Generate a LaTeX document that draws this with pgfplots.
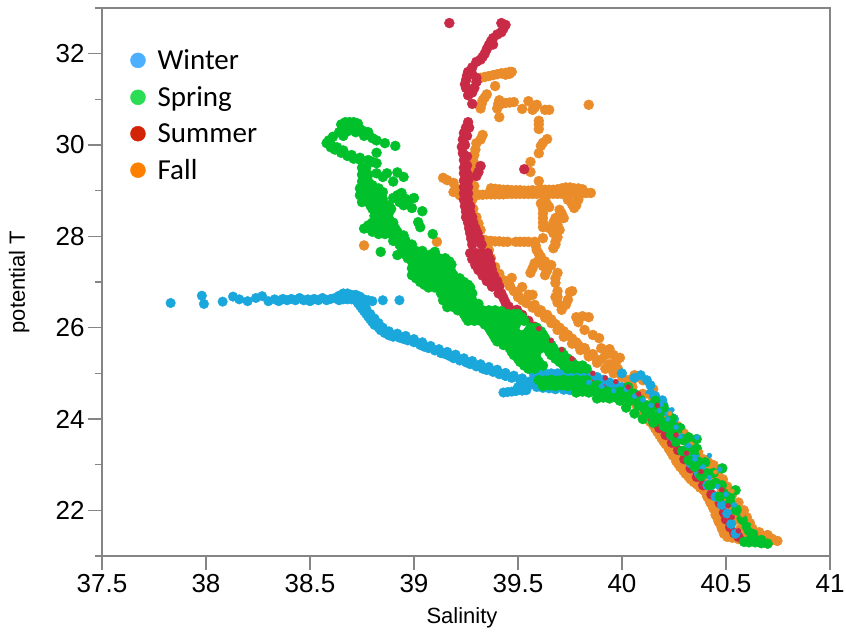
\documentclass[border=0pt]{standalone}
\usepackage{fontspec}
\setmainfont{Liberation Sans}
\newfontfamily\legfont{Carlito}
\usepackage{pgfplots}
\pgfplotsset{compat=1.18}
\definecolor{frame}{HTML}{858585}
\definecolor{cWin}{HTML}{1AA7DC}
\definecolor{cSpr}{HTML}{00C12B}
\definecolor{cSum}{HTML}{C92B46}
\definecolor{cFal}{HTML}{EA8C2A}
\definecolor{lWin}{HTML}{4DAFFF}
\definecolor{lSpr}{HTML}{2BDC55}
\definecolor{lSum}{HTML}{D42408}
\definecolor{lFal}{HTML}{FF7F00}
\begin{document}
\begin{tikzpicture}[x=1pt,y=1pt]
\path[use as bounding box] (0,0) rectangle (846,634);
\begin{axis}[
  at={(102pt,78pt)}, anchor=south west,
  scale only axis, width=728pt, height=548pt,
  xmin=37.5, xmax=41, ymin=21, ymax=33,
  xtick={37.5,38,38.5,39,39.5,40,40.5,41},
  xticklabels={37.5,38,38.5,39,39.5,40,40.5,41},
  ytick={22,24,26,28,30,32},
  minor ytick={21,23,25,27,29,31,33},
  tick pos=left,
  tick align=outside,
  major tick length=14pt, minor tick length=7pt,
  every tick/.style={frame, line width=1.6pt},
  axis line style={frame, line width=2.2pt},
  /pgf/number format/assume math mode=true,
  ticklabel style={font=\fontsize{26}{28}\selectfont},
  xticklabel style={yshift=-1pt},
  xlabel={Salinity}, ylabel={potential T},
  xlabel style={font=\fontsize{22}{24}\selectfont, at={(axis description cs:0.4945,0)}, anchor=north, yshift=-48pt},
  ylabel style={font=\fontsize{22}{24}\selectfont, at={(axis description cs:0,0.5)}, anchor=south, yshift=69pt},
  clip=true,
  legend cell align=left,
  legend style={draw=none, fill=none, at={(axis cs:37.635,30.65)}, anchor=west,
     font=\legfont\fontsize{29}{30}\selectfont, row sep=11.5pt, inner sep=0pt},
  legend image code/.code={\path (0pt,0pt) (25pt,0pt); \draw[#1, mark=*, mark size=7.5pt, only marks] plot coordinates {(7.5pt,0pt)};},
  scatter series/.style={only marks, mark=*, mark size=5pt, forget plot},
]
\addlegendimage{only marks, mark=*, color=lWin}
\addlegendentry{Winter}
\addlegendimage{only marks, mark=*, color=lSpr}
\addlegendentry{Spring}
\addlegendimage{only marks, mark=*, color=lSum}
\addlegendentry{Summer}
\addlegendimage{only marks, mark=*, color=lFal}
\addlegendentry{Fall}

% ---------- Fall
\addplot[scatter series, color=cFal] coordinates {
(39.32,31.47)(39.34,31.49)(39.36,31.51)(39.38,31.53)(39.4,31.55)(39.42,31.57)(39.44,31.58)(39.46,31.6)(39.47,31.6)(39.44,31.54)(39.46,31.56)
(39.39,31.29)(39.35,31.11)(39.33,30.98)(39.32,30.8)(39.325,30.9)(39.34,31.04)
(39.41,30.98)(39.4,30.8)(39.41,30.61)(39.405,30.9)(39.44,30.92)(39.46,30.93)(39.48,30.94)(39.42,30.9)
(39.55,30.96)(39.52,30.79)(39.57,30.77)(39.58,30.82)(39.59,30.88)(39.63,30.77)(39.65,30.77)(39.84,30.88)
(39.6,30.53)(39.6,30.45)(39.6,30.35)(39.64,30.13)(39.61,29.98)(39.62,30.05)(39.6,29.82)(39.56,29.63)(39.56,29.41)(39.6,29.21)
(39.33,30.22)(39.32,30.12)(39.3,30.04)(39.295,29.9)(39.29,29.78)(39.285,29.65)(39.28,29.52)(39.275,29.4)(39.27,29.2)
(39.14,29.28)(39.16,29.23)(39.19,29.17)(39.19,28.97)(39.2,29.05)(39.22,28.9)(39.24,29.05)(39.26,29)(39.29,29.1)
(39.27,28.9)(39.29,28.9)(39.31,28.91)(39.33,28.91)(39.35,28.92)(39.37,28.92)(39.39,28.92)(39.41,28.92)(39.43,28.92)(39.45,28.93)(39.47,28.93)(39.49,28.93)(39.51,28.93)(39.53,28.93)(39.55,28.93)(39.57,28.93)(39.59,28.93)(39.61,28.93)(39.63,28.93)(39.65,28.93)(39.67,28.93)(39.69,28.93)(39.71,28.93)(39.73,28.93)(39.75,28.93)(39.77,28.93)(39.79,28.94)(39.81,28.94)(39.83,28.95)(39.85,28.95)
(39.37,29.05)(39.39,29.04)(39.41,29.03)(39.43,29.02)(39.45,29.02)(39.47,29.01)(39.49,29.01)(39.51,29.01)(39.53,29)(39.55,29)(39.57,29.01)(39.59,29)(39.61,29.03)(39.63,29.02)(39.65,29.02)(39.67,29.02)(39.69,29.03)(39.71,29.05)(39.73,29.07)(39.75,29.07)(39.77,29.05)(39.79,29.05)(39.81,29.03)
(39.77,28.62)(39.79,28.8)(39.74,28.8)(39.76,28.7)(39.78,28.68)
(39.7,28.58)(39.72,28.4)(39.71,28.5)(39.68,28.4)(39.65,28.64)(39.62,28.6)(39.62,28.4)(39.62,28.5)(39.62,28.3)(39.62,28.2)(39.67,28.07)(39.7,28.14)(39.69,28.25)(39.67,27.74)(39.68,27.82)(39.62,27.96)(39.68,27.88)(39.69,27.98)(39.65,28.18)(39.67,28.3)(39.63,28.8)(39.61,28.72)(39.64,28.7)
(39.33,27.92)(39.35,27.9)(39.37,27.9)(39.39,27.89)(39.41,27.89)(39.43,27.88)(39.45,27.88)
(39.49,27.88)(39.51,27.88)(39.53,27.88)(39.55,27.88)(39.58,27.88)(39.59,27.7)(39.585,27.8)(39.6,27.62)(39.61,27.55)(39.63,27.45)(39.66,27.37)(39.63,27.15)(39.64,27.25)(39.56,27.2)(39.57,27.3)(39.58,27.41)(39.6,27.48)(39.62,27.35)(39.69,27.2)(39.68,26.98)(39.68,27.08)(39.69,26.67)(39.69,26.8)(39.76,26.8)
(39.52,26.89)(39.57,26.72)(39.55,26.72)(39.5,26.72)(39.47,27.09)(39.46,26.91)
(39.28,29)(39.28,28.8)(39.285,28.6)(39.3,28.42)(39.31,28.28)(39.32,28.14)(39.34,27.92)(39.36,27.7)(39.37,27.52)(39.39,27.33)(39.41,27.18)(39.43,27.04)
(39.46,26.93)(39.48,26.8)(39.5,26.67)(39.52,26.6)(39.54,26.54)(39.57,26.44)(39.6,26.34)(39.63,26.22)(39.66,26.1)(39.69,25.95)(39.72,25.8)(39.76,25.65)(39.8,25.51)(39.84,25.37)(39.88,25.23)(39.92,25.1)(39.96,25)(40,24.92)(40.05,24.85)
(39.56,26.71)(39.58,26.5)(39.61,26.38)(39.64,26.28)(39.66,26.18)(39.68,26.08)(39.7,26)(39.72,25.92)(39.74,25.84)(39.76,25.76)(39.78,25.68)(39.82,25.55)(39.86,25.42)(39.9,25.3)(39.94,25.2)(39.98,25.1)
(39.68,26.67)(39.69,26.55)(39.75,26.78)(39.74,26.61)(39.71,26.39)(39.73,26.5)(39.78,26.23)(39.81,26.25)(39.84,26.23)(39.79,26.12)(39.82,25.95)(39.86,25.84)(39.89,25.77)(39.9,25.55)(39.94,25.53)(39.99,25.34)(39.97,25.23)(39.96,25.07)(39.94,25.45)(39.79,25.62)(39.82,25.55)(39.88,25.29)(39.92,25.4)(39.96,25.4)(39.84,25.42)
% lower band, lower edge
(40.06,24.96)(40.03,24.85)(40.1,24.85)(40.15,24.65)(40.05,24.5)(40.07,24.3)(40.09,24.15)(40.12,24)(40.135,23.94)(40.15,23.87)(40.16,23.79)(40.17,23.72)(40.18,23.65)(40.19,23.58)(40.2,23.51)(40.21,23.45)(40.225,23.35)(40.235,23.28)(40.245,23.2)(40.26,23.08)(40.27,23.02)(40.28,22.95)(40.295,22.87)(40.306,22.8)(40.32,22.74)(40.33,22.68)(40.345,22.62)(40.36,22.57)(40.375,22.5)(40.394,22.44)(40.405,22.37)(40.41,22.3)(40.42,22.23)(40.425,22.17)(40.435,22.1)(40.44,22.04)(40.45,21.97)(40.45,21.9)(40.46,21.82)(40.465,21.75)(40.475,21.68)(40.48,21.6)(40.49,21.49)(40.506,21.42)(40.53,21.4)
% middle of the band
(40.13,24.2)(40.15,24.05)(40.17,23.9)(40.19,23.78)(40.21,23.65)(40.23,23.52)(40.25,23.38)(40.27,23.25)(40.29,23.12)(40.31,23)(40.33,22.88)(40.36,22.74)(40.39,22.62)(40.42,22.48)(40.44,22.32)(40.455,22.18)(40.47,22.04)(40.485,21.9)(40.5,21.75)(40.515,21.6)(40.53,21.46)
(40.18,24.3)(40.2,24.12)(40.23,23.95)(40.26,23.75)(40.29,23.55)(40.32,23.35)(40.35,23.18)(40.38,23.02)(40.41,22.84)(40.45,22.64)(40.48,22.44)(40.51,22.22)(40.53,22)(40.55,21.8)(40.57,21.6)(40.6,21.45)
% upper edge
(40.05,24.7)(40.1,24.55)(40.15,24.45)(40.2,24.19)(40.23,24.03)(40.265,23.85)(40.298,23.68)(40.32,23.52)(40.34,23.38)(40.362,23.25)(40.39,23.12)(40.415,23.05)(40.44,22.99)(40.46,22.83)(40.485,22.68)(40.506,22.52)(40.53,22.35)(40.56,22.17)(40.586,22)(40.6,21.85)(40.615,21.72)(40.627,21.6)(40.66,21.52)(40.7,21.46)(40.72,21.38)(40.747,21.33)
(40.56,21.37)(40.59,21.37)(40.62,21.36)(40.65,21.36)(40.68,21.35)(40.72,21.34)
(38.76,27.8)(39.11,27.88)
};
% ---------- Summer
\addplot[scatter series, color=cSum] coordinates {
(39.17,32.67)(39.42,32.67)(39.44,32.63)(39.43,32.55)(39.42,32.47)(39.4,32.42)(39.38,32.34)(39.37,32.27)(39.38,32.2)(39.36,32.19)(39.35,32.1)(39.34,32)(39.33,31.93)(39.3,31.82)(39.32,31.87)(39.28,31.7)(39.26,31.6)(39.25,31.42)(39.255,31.52)(39.3,31.47)(39.28,31.55)(39.25,31.25)(39.245,31.33)(39.26,31.09)(39.29,31.25)(39.3,31.38)(39.28,31.15)(39.28,30.9)
(39.26,30.5)(39.25,30.38)(39.265,30.38)(39.24,30.26)(39.255,30.2)(39.235,30.12)(39.23,29.96)(39.245,30)(39.235,29.82)(39.24,29.67)(39.255,29.75)(39.255,29.55)(39.24,29.5)(39.24,29.38)(39.255,29.38)(39.32,29.54)(39.31,29.41)(39.3,29.32)(39.53,29.47)
(39.24,29.22)(39.26,29.22)(39.24,29.08)(39.26,29.08)(39.24,28.94)(39.26,28.94)(39.24,28.8)(39.26,28.8)(39.245,28.66)(39.27,28.66)(39.25,28.54)(39.27,28.54)(39.25,28.42)(39.28,28.42)(39.26,28.3)(39.285,28.3)(39.265,28.18)(39.295,28.18)(39.27,28.07)(39.305,28.07)(39.275,27.95)(39.315,27.95)(39.28,27.82)(39.325,27.82)(39.27,27.63)(39.3,27.63)(39.33,27.63)(39.355,27.63)(39.28,27.5)(39.31,27.5)(39.34,27.5)(39.365,27.5)(39.295,27.37)(39.33,27.37)(39.37,27.37)(39.31,27.26)(39.345,27.26)(39.375,27.26)(39.33,27.14)(39.36,27.14)(39.385,27.14)(39.35,27.02)(39.38,27.02)(39.4,27.02)(39.375,26.9)(39.41,26.9)(39.407,26.75)(39.42,26.75)(39.43,26.65)(39.44,26.55)(39.455,26.46)
(39.495,26.39)(39.52,26.28)(39.55,26.15)(39.58,26.02)(39.607,25.88)(39.63,25.75)(39.65,25.62)(39.67,25.51)(39.7,25.4)(39.74,25.26)(39.77,25.15)(39.8,25.05)(39.83,24.96)(39.88,24.85)(39.92,24.78)(39.98,24.68)
(40.04,24.57)(40.08,24.35)(40.12,24.15)(40.15,23.98)(40.18,23.8)(40.21,23.65)(40.24,23.48)(40.27,23.32)(40.3,23.12)(40.33,22.92)(40.36,22.73)(40.39,22.55)(40.43,22.35)(40.47,22.16)(40.49,21.95)(40.5,21.8)(40.52,21.63)(40.54,21.5)(40.56,21.42)
};
% ---------- Winter
\addplot[scatter series, color=cWin, mark size=4.8pt] coordinates {
(37.83,26.54)(37.98,26.7)(37.99,26.52)(38.08,26.57)(38.13,26.68)(38.16,26.62)(38.2,26.58)(38.24,26.65)(38.27,26.69)(38.3,26.58)(38.33,26.62)(38.35,26.58)(38.37,26.63)(38.39,26.6)(38.41,26.63)(38.43,26.6)(38.45,26.65)(38.47,26.6)(38.49,26.62)(38.5,26.58)(38.52,26.63)(38.54,26.6)(38.56,26.65)(38.58,26.6)(38.6,26.63)(38.62,26.65)(38.64,26.7)(38.66,26.75)(38.68,26.75)(38.7,26.72)(38.72,26.72)(38.74,26.68)(38.76,26.62)(38.78,26.6)(38.8,26.58)(38.85,26.6)(38.93,26.6)
(38.64,26.6)(38.66,26.62)(38.68,26.62)(38.7,26.62)(38.72,26.6)(38.73,26.54)(38.74,26.48)(38.75,26.42)(38.76,26.36)(38.77,26.3)(38.78,26.24)(38.79,26.18)(38.8,26.12)(38.81,26.06)(38.83,26)(38.84,25.94)(38.86,25.88)(38.88,25.83)(38.9,25.8)(38.93,25.78)(38.95,25.75)(38.97,25.72)(39,25.68)(39.03,25.62)(39.05,25.58)(39.07,25.55)(39.1,25.5)(39.13,25.44)(39.15,25.42)(39.17,25.38)(39.19,25.33)(39.22,25.28)(39.25,25.24)(39.27,25.2)(39.3,25.15)(39.33,25.1)(39.35,25.07)(39.38,25.03)(39.41,24.98)(39.44,24.94)(39.47,24.9)(39.51,24.85)(39.53,24.8)(39.56,24.75)(39.59,24.7)(39.62,24.68)(39.65,24.67)(39.68,24.65)(39.72,24.64)(39.75,24.63)(39.78,24.63)(39.8,24.63)(39.83,24.63)(39.86,24.63)(39.88,24.65)(39.9,24.65)(39.95,24.63)(40,24.6)
(38.75,26.5)(38.77,26.42)(38.79,26.3)(38.81,26.2)(38.83,26.1)(38.85,26)(38.88,25.92)(38.92,25.87)(38.96,25.82)(39,25.75)(39.04,25.68)(39.08,25.6)(39.12,25.53)(39.16,25.47)(39.2,25.41)(39.24,25.33)(39.28,25.27)(39.32,25.2)(39.36,25.14)(39.4,25.08)(39.44,25.01)(39.48,24.95)(39.52,24.89)(39.56,24.83)(39.6,24.77)(39.64,24.73)(39.68,24.7)(39.72,24.69)
(39.43,24.58)(39.45,24.59)(39.47,24.6)(39.49,24.61)(39.52,24.62)(39.54,24.63)(39.5,24.7)
(39.575,25)(39.6,25)(39.63,25)(39.66,25)(39.69,25)(39.72,25)(39.75,25)(39.78,25)(39.81,24.98)(39.83,24.96)(39.85,24.96)(39.88,24.92)(39.91,24.86)(39.94,24.8)(39.97,24.75)(40,24.7)(40,25)(40.06,24.9)(40.09,24.96)(40.12,24.85)(40.137,24.74)(40.137,24.56)(40.16,24.5)(40.194,24.41)(40.2,24.3)(40.22,24.15)(40.25,24)(40.28,23.8)(40.3,23.6)(40.31,23.3)(40.33,23.03)(40.37,22.8)(40.41,22.55)(40.458,22.3)(40.48,22.12)(40.506,21.93)(40.525,21.7)(40.546,21.49)
(40.25,23.6)(40.3,23.3)(40.35,23.2)(40.38,23)(40.4,22.8)(40.43,22.55)(40.45,22.3)
};
% ---------- Spring
\addplot[scatter series, color=cSpr] coordinates {
(38.65,30.45)(38.67,30.5)(38.69,30.5)(38.71,30.5)(38.73,30.47)(38.66,30.37)(38.68,30.38)(38.7,30.38)(38.72,30.4)(38.74,30.35)(38.76,30.3)(38.78,30.28)(38.8,30.15)(38.82,30.1)(38.86,30.04)(38.91,29.98)(38.82,29.83)(38.68,30.3)(38.72,30.28)(38.76,30.2)
(38.64,30.28)(38.61,30.18)(38.59,30.1)(38.58,30.04)(38.6,29.95)(38.62,29.9)(38.65,29.83)(38.68,29.76)(38.71,29.7)(38.74,29.68)(38.78,29.67)(38.8,29.63)(38.6,30.02)(38.63,29.95)(38.66,29.88)(38.7,29.78)(38.74,29.72)(38.66,30.2)
(38.82,29.6)(38.82,29.38)(38.87,29.38)(38.92,29.4)(38.95,29.3)(38.9,29.2)(38.85,29.3)(38.94,28.95)(38.9,28.84)(39,28.84)(38.99,28.62)(39.04,28.55)(39.02,28.31)(39.03,28.2)(39.09,28.05)(39.1,27.66)(38.84,27.66)(38.92,27.59)(38.92,28.9)(38.96,28.82)(38.95,28.68)(38.93,28.75)(38.97,28.75)
(38.75,29.5)(38.77,29.5)(38.75,29.35)(38.78,29.35)(38.75,29.2)(38.78,29.2)(38.76,29.42)(38.77,29.28)(38.77,29.12)(38.8,29.12)
(38.74,29.05)(38.77,29.05)(38.8,29.05)(38.83,29.05)(38.74,28.9)(38.77,28.9)(38.8,28.9)(38.83,28.9)(38.755,28.97)(38.785,28.97)(38.815,28.97)(38.85,28.97)(38.755,28.82)(38.785,28.82)(38.815,28.82)(38.85,28.82)
(38.75,28.75)(38.78,28.75)(38.81,28.75)(38.84,28.75)(38.85,28.75)(38.8,28.6)(38.83,28.6)(38.86,28.6)(38.89,28.6)(38.79,28.68)(38.82,28.68)(38.85,28.68)(38.88,28.68)
(38.81,28.45)(38.84,28.45)(38.87,28.45)(38.8,28.3)(38.83,28.3)(38.86,28.3)(38.88,28.3)(38.82,28.52)(38.85,28.52)(38.88,28.52)(38.82,28.38)(38.85,28.38)(38.88,28.38)(38.9,28.3)
(38.76,28.17)(38.79,28.17)(38.82,28.17)(38.85,28.17)(38.88,28.17)(38.91,28.17)(38.83,28.05)(38.86,28.05)(38.89,28.05)(38.92,28.05)(38.78,28.24)(38.81,28.24)(38.84,28.24)(38.87,28.24)(38.9,28.24)(38.8,28.1)(38.84,28.1)(38.88,28.1)(38.92,28.1)(38.95,28.02)
(38.9,27.9)(38.93,27.9)(38.96,27.9)(38.94,27.75)(38.97,27.75)(38.98,27.75)(38.92,27.97)(38.95,27.97)(38.93,27.82)(38.96,27.82)(38.99,27.82)(38.95,27.68)(38.98,27.68)(39.01,27.68)(39.04,27.68)
(38.96,27.6)(38.99,27.6)(39.02,27.6)(39.05,27.6)(39.08,27.6)(39.1,27.6)(39.12,27.52)(38.97,27.52)(39,27.52)(39.03,27.52)(39.06,27.52)(39.09,27.52)
(38.99,27.45)(39.02,27.45)(39.05,27.45)(39.08,27.45)(39.11,27.45)(39.14,27.45)(39.17,27.45)(39.15,27.52)
(38.99,27.3)(39.02,27.3)(39.05,27.3)(39.08,27.3)(39.11,27.3)(39.14,27.3)(39.16,27.3)(39,27.38)(39.03,27.38)(39.06,27.38)(39.09,27.38)(39.12,27.38)(39.15,27.38)(39.18,27.38)
(38.99,27.15)(39.02,27.15)(39.05,27.15)(39.08,27.15)(39.11,27.15)(39.14,27.15)(39.17,27.15)(39.19,27.15)(39,27.22)(39.03,27.22)(39.06,27.22)(39.09,27.22)(39.12,27.22)(39.15,27.22)(39.18,27.22)
(39.03,27)(39.06,27)(39.09,27)(39.12,27)(39.15,27)(39.18,27)(39.21,27)(39.24,27)(39.01,27.08)(39.04,27.08)(39.07,27.08)(39.1,27.08)(39.13,27.08)(39.16,27.08)(39.19,27.08)(39.22,27.08)
(39.07,26.88)(39.1,26.88)(39.13,26.88)(39.16,26.88)(39.19,26.88)(39.22,26.88)(39.25,26.88)(39.27,26.88)(39.05,26.94)(39.08,26.94)(39.11,26.94)(39.14,26.94)(39.17,26.94)(39.2,26.94)(39.23,26.94)(39.26,26.94)
(39.13,26.75)(39.16,26.75)(39.19,26.75)(39.22,26.75)(39.25,26.75)(39.28,26.75)(39.14,26.82)(39.17,26.82)(39.2,26.82)(39.23,26.82)(39.26,26.82)(39.15,26.68)(39.18,26.68)(39.21,26.68)(39.24,26.68)(39.27,26.68)
(39.14,26.6)(39.17,26.6)(39.2,26.6)(39.23,26.6)(39.26,26.6)(39.28,26.6)(39.16,26.52)(39.19,26.52)(39.22,26.52)(39.25,26.52)(39.28,26.52)(39.31,26.52)
(39.16,26.45)(39.19,26.45)(39.22,26.45)(39.25,26.45)(39.28,26.45)(39.31,26.45)(39.21,26.38)(39.24,26.38)(39.27,26.38)(39.3,26.38)(39.33,26.38)(39.36,26.38)(39.39,26.38)(39.42,26.36)
(39.24,26.3)(39.27,26.3)(39.3,26.3)(39.33,26.3)(39.36,26.3)(39.39,26.3)(39.42,26.3)(39.45,26.3)(39.48,26.3)(39.5,26.3)(39.25,26.22)(39.28,26.22)(39.31,26.22)(39.34,26.22)(39.37,26.22)(39.4,26.22)(39.43,26.22)(39.46,26.22)(39.49,26.22)(39.52,26.22)
(39.26,26.15)(39.29,26.15)(39.32,26.15)(39.35,26.15)(39.38,26.15)(39.41,26.15)(39.44,26.15)(39.47,26.15)(39.5,26.15)(39.53,26.15)(39.34,26.07)(39.37,26.07)(39.4,26.07)(39.43,26.07)(39.46,26.07)(39.49,26.07)
(39.36,26)(39.39,26)(39.42,26)(39.45,26)(39.56,26)(39.59,26)(39.37,25.92)(39.4,25.92)(39.43,25.92)(39.46,25.92)(39.49,25.9)(39.55,25.92)(39.58,25.92)(39.61,25.92)
(39.38,25.85)(39.41,25.85)(39.44,25.85)(39.47,25.85)(39.5,25.85)(39.53,25.85)(39.56,25.85)(39.59,25.85)(39.62,25.85)(39.39,25.77)(39.42,25.77)(39.45,25.77)(39.48,25.77)(39.51,25.77)(39.54,25.77)(39.57,25.77)(39.6,25.77)(39.63,25.77)
(39.4,25.7)(39.43,25.7)(39.46,25.7)(39.49,25.7)(39.52,25.7)(39.55,25.7)(39.58,25.7)(39.61,25.7)(39.64,25.7)(39.43,25.62)(39.46,25.62)(39.49,25.62)(39.52,25.62)(39.55,25.62)(39.58,25.62)(39.61,25.62)(39.64,25.62)(39.66,25.62)
(39.46,25.55)(39.49,25.55)(39.52,25.55)(39.55,25.55)(39.58,25.55)(39.61,25.55)(39.64,25.55)(39.67,25.55)(39.47,25.47)(39.5,25.47)(39.53,25.47)(39.56,25.47)(39.59,25.47)(39.65,25.47)(39.68,25.47)(39.71,25.47)
(39.48,25.4)(39.51,25.4)(39.54,25.4)(39.57,25.4)(39.66,25.4)(39.69,25.4)(39.72,25.4)(39.5,25.32)(39.53,25.32)(39.56,25.32)(39.59,25.32)(39.68,25.32)(39.71,25.32)(39.74,25.32)
(39.51,25.25)(39.54,25.25)(39.57,25.25)(39.6,25.25)(39.7,25.25)(39.73,25.25)(39.76,25.25)(39.53,25.17)(39.56,25.17)(39.59,25.17)(39.62,25.17)(39.72,25.17)(39.75,25.17)(39.78,25.17)(39.81,25.17)
(39.55,25.1)(39.58,25.1)(39.74,25.1)(39.77,25.1)(39.8,25.1)(39.83,25.1)
(39.6,24.85)(39.63,24.84)(39.66,24.86)(39.69,24.84)(39.72,24.86)(39.75,24.84)(39.78,24.86)(39.81,24.84)(39.83,24.85)
(39.62,24.72)(39.65,24.74)(39.68,24.72)(39.71,24.74)(39.74,24.72)(39.77,24.74)(39.8,24.72)(39.83,24.74)(39.86,24.72)(39.88,24.74)
(39.78,24.58)(39.81,24.6)(39.84,24.58)(39.87,24.6)(39.9,24.58)(39.93,24.6)(39.96,24.58)(39.99,24.6)(40.02,24.58)
(39.88,24.45)(39.91,24.47)(39.94,24.45)(39.97,24.47)(40,24.45)(40.02,24.47)(40.04,24.4)
(39.99,24.4)(40.02,24.25)(40.06,24.12)(40.1,24)(40.15,23.92)(40.2,23.85)(40.25,23.72)(40.3,23.53)(40.36,23.32)(40.4,23.05)(40.44,22.82)(40.48,22.55)(40.52,22.29)(40.55,22.02)(40.58,21.79)(40.61,21.55)
(40.587,21.31)(40.61,21.3)(40.64,21.3)(40.67,21.28)(40.7,21.27)(40.62,21.38)(40.65,21.34)
(40.359,23.56)(40.482,22.92)(40.546,22.44)
(40.08,24.3)(40.11,24.2)(40.14,24.1)(40.18,23.99)(40.21,23.82)(40.235,23.65)(40.26,23.5)(40.29,23.3)(40.32,23.1)(40.35,22.95)(40.38,22.75)(40.42,22.55)(40.47,22.3)
(40.15,24.27)(40.18,24.1)(40.22,23.95)(40.25,23.83)(40.29,23.55)(40.33,23.32)(40.37,23.06)(40.41,22.81)(40.45,22.6)(40.49,22.37)(40.52,22.18)(40.55,22)(40.575,21.82)(40.6,21.64)(40.63,21.48)(40.67,21.35)
(40.03,24.7)(40.06,24.55)(40.09,24.42)(40.12,24.3)(40.16,24.4)(40.2,24.25)(40.24,24.02)(40.28,23.8)(40.32,23.6)(40.36,23.35)
};
% ---------- overlay where the seasons interleave
\addplot[scatter series, color=cWin, mark size=2.5pt] coordinates {
(39.84,24.8)(39.9,24.72)(39.96,24.62)(40.02,24.65)(40.06,24.5)(40.1,24.42)(40.14,24.3)(40.18,24.18)(40.22,24)(40.26,23.82)(40.28,23.62)(40.32,23.42)(40.35,23.12)(40.39,22.95)(40.42,22.72)(40.46,22.52)(40.5,22.35)(40.54,22.12)(40.36,23.6)(40.42,23.2)(40.47,22.9)(40.13,24.55)(40.19,24.32)(40.24,24.2)
};
\addplot[scatter series, color=cSum, mark size=2.5pt] coordinates {
(39.6,25.98)(39.66,25.72)(39.71,25.52)(39.76,25.32)(39.86,25)(39.92,24.9)(39.97,24.82)(40.03,24.7)(40.08,24.55)(40.17,24.3)(40.26,23.65)(40.31,23.25)(40.38,22.85)(40.48,22.45)(40.51,22.1)(40.53,21.85)(40.56,21.55)
};
\addplot[scatter series, color=cFal, mark size=2.2pt] coordinates {
(40.12,24.5)(40.23,24.12)(40.3,23.72)(40.38,23.28)(40.45,22.84)(40.53,22.42)(40.58,21.9)(40.63,21.65)
};
\end{axis}
\end{tikzpicture}
\end{document}
